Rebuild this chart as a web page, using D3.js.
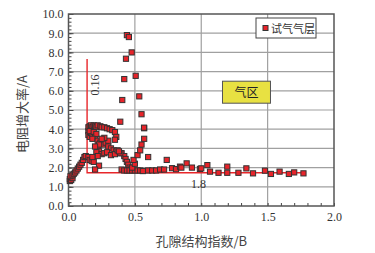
<!DOCTYPE html>
<meta charset="utf-8">
<style>
body { margin: 0; background: #fff; }
.tick text { font-family: "Liberation Serif", serif; font-size: 12px; fill: #333; }
.axis .domain { display: none; }
</style>
<body>
<svg width="375" height="253"></svg>
<script src="https://d3js.org/d3.v7.min.js"></script>
<script>
// points of the gas-test layer
var ptsX = [
  0.01, 0.01, 0.02, 0.02, 0.03, 0.015, 0.03, 0.04, 0.05, 0.06, 0.07, 0.08, 0.09, 0.10, 0.11, 0.12, 0.13, 0.15,
  0.16, 0.175, 0.15, 0.15, 0.16, 0.17, 0.18, 0.19, 0.20, 0.21, 0.22, 0.24, 0.25, 0.27, 0.29, 0.31, 0.33, 0.35,
  0.36, 0.35, 0.15, 0.16, 0.17, 0.18, 0.16, 0.19, 0.20, 0.21, 0.18,
  0.22, 0.24, 0.26, 0.28, 0.30, 0.32, 0.34, 0.36, 0.38, 0.40, 0.42, 0.43, 0.44, 0.45, 0.46, 0.47,
  0.22, 0.23, 0.21, 0.25, 0.27, 0.29, 0.30, 0.27, 0.25, 0.23, 0.20, 0.22, 0.19, 0.23, 0.20, 0.18, 0.32, 0.35,
  0.37, 0.39, 0.38,
  0.40, 0.42, 0.44, 0.46, 0.48, 0.50, 0.52, 0.54, 0.56, 0.60, 0.63, 0.66, 0.69, 0.72,
  0.48, 0.50, 0.49, 0.52, 0.54, 0.55, 0.57, 0.57, 0.60, 0.74,
  0.39, 0.405, 0.42, 0.433, 0.44, 0.455, 0.476, 0.506, 0.533, 0.55, 0.569,
  0.78, 0.81, 0.84, 0.85, 0.89, 0.93, 0.99,
  1.00, 1.046, 1.066, 1.13, 1.196, 1.196, 1.28, 1.34, 1.39, 1.48, 1.525, 1.59, 1.66, 1.70, 1.77
];
var ptsY = [
  1.30, 1.40, 1.35, 1.50, 1.45, 1.55, 1.60, 1.68, 1.75, 1.85, 1.95, 2.05, 2.15, 2.25, 2.40, 2.55, 2.60, 2.55,
  2.40, 2.34, 3.90, 4.10, 4.15, 4.20, 4.10, 4.20, 4.15, 4.10, 4.20, 4.15, 4.10, 4.10, 4.05, 4.00, 3.95, 3.85,
  3.60, 3.45, 3.70, 3.60, 3.80, 3.70, 3.90, 3.85, 3.60, 3.75, 3.50,
  3.40, 3.30, 3.20, 3.30, 3.10, 3.00, 2.90, 2.85, 2.80, 2.75, 2.60, 2.45, 2.30, 2.15, 2.00, 1.90,
  3.00, 2.85, 2.80, 2.70, 2.75, 2.80, 3.40, 3.55, 3.50, 3.20, 3.10, 2.60, 2.30, 2.10, 1.90, 2.55, 2.65, 2.70,
  2.90, 2.75, 2.85,
  1.90, 1.85, 1.85, 1.85, 1.85, 1.85, 1.85, 1.85, 1.82, 1.85, 1.85, 1.85, 1.90, 1.90,
  2.00, 2.20, 2.40, 2.65, 2.90, 3.20, 3.50, 4.05, 2.55, 2.40,
  4.39, 5.52, 6.61, 7.67, 8.90, 8.80, 8.00, 6.78, 5.71, 4.78, 4.08,
  1.97, 1.92, 2.05, 2.00, 2.22, 2.00, 1.93,
  1.96, 2.13, 1.79, 1.73, 2.05, 1.73, 1.73, 1.96, 1.70, 1.84, 1.67, 1.79, 1.67, 1.75, 1.70
];

var xTicks = [0, 0.5, 1.0, 1.5, 2.0];
var yTicks = [0, 1, 2, 3, 4, 5, 6, 7, 8, 9, 10];

// cut-off lines
var cutX = 0.14, cutY = 1.73;
var cutTop = 7.65, cutEnd = 1.78;

var svg = d3.select("svg"),
    margin = {top: 14, right: 41, bottom: 47, left: 68.5},
    width = +svg.attr("width") - margin.left - margin.right,
    height = +svg.attr("height") - margin.top - margin.bottom,
    g = svg.append("g").attr("transform", "translate(" + margin.left + "," + margin.top + ")");

var x = d3.scaleLinear().domain([0, 2]).range([0, width]);
var y = d3.scaleLinear().domain([0, 10]).range([height, 0]);

// grid
g.append("g").selectAll("line")
  .data(yTicks.slice(1, -1))
  .enter().append("line")
    .attr("x1", 0).attr("x2", width)
    .attr("y1", function(d) { return y(d); }).attr("y2", function(d) { return y(d); })
    .attr("stroke", "#a0a0a0").attr("stroke-width", 1.2);
g.append("g").selectAll("line")
  .data(xTicks.slice(1, -1))
  .enter().append("line")
    .attr("y1", 0).attr("y2", height)
    .attr("x1", function(d) { return x(d); }).attr("x2", function(d) { return x(d); })
    .attr("stroke", "#a0a0a0").attr("stroke-width", 1.2);

// minor ticks
g.append("g")
    .attr("class", "axis")
    .call(d3.axisLeft(y).tickValues(d3.range(0, 10.01, 0.2)).tickSize(-3).tickFormat(""))
    .selectAll("line").attr("stroke", "#444");
g.append("g")
    .attr("class", "axis")
    .attr("transform", "translate(0," + height + ")")
    .call(d3.axisBottom(x).tickValues(d3.range(0, 2.001, 0.1)).tickSize(-3).tickFormat(""))
    .selectAll("line").attr("stroke", "#444");

// main axes
g.append("g")
    .attr("class", "axis")
    .call(d3.axisLeft(y).tickValues(yTicks).tickSize(-5).tickPadding(5).tickFormat(d3.format(".1f")))
    .selectAll("line").attr("stroke", "#444");
g.append("g")
    .attr("class", "axis")
    .attr("transform", "translate(0," + height + ")")
    .call(d3.axisBottom(x).tickValues(xTicks).tickSize(0).tickPadding(6).tickFormat(d3.format(".1f")));

// frame
g.append("rect")
    .attr("width", width).attr("height", height)
    .attr("fill", "none").attr("stroke", "#555").attr("stroke-width", 1.5);

// red cut-off lines
g.append("path")
    .attr("d", "M" + x(cutX) + "," + y(cutTop) + "V" + y(cutY) + "H" + x(cutEnd))
    .attr("fill", "none").attr("stroke", "#e8262a").attr("stroke-width", 1.4);

g.append("text")
    .attr("transform", "translate(" + (x(cutX) + 12) + "," + y(6.3) + ") rotate(-90)")
    .attr("text-anchor", "middle")
    .attr("font-family", "Liberation Serif, serif").attr("font-size", 12).attr("fill", "#333")
    .text("0.16");
g.append("text")
    .attr("x", x(0.98)).attr("y", y(0.95))
    .attr("text-anchor", "middle")
    .attr("font-family", "Liberation Serif, serif").attr("font-size", 12).attr("fill", "#333")
    .text("1.8");

// points
var pts = ptsX.map(function(d, i) { return [d, ptsY[i]]; });
g.append("g").selectAll("rect")
  .data(pts)
  .enter().append("rect")
    .attr("x", function(d) { return x(d[0]) - 2.6; })
    .attr("y", function(d) { return y(d[1]) - 2.6; })
    .attr("width", 5.2).attr("height", 5.2)
    .attr("fill", "#e8242a").attr("stroke", "#333").attr("stroke-width", 1);

// gas zone box
var zone = g.append("g").attr("transform", "translate(" + x(1.16) + "," + y(6.5) + ")");
zone.append("rect")
    .attr("width", 48).attr("height", 22)
    .attr("fill", "#e8e142").attr("stroke", "#555").attr("stroke-width", 1);
zone.append("text")
    .attr("x", 24).attr("y", 15.5).attr("text-anchor", "middle")
    .attr("font-family", "Noto Sans CJK SC").attr("font-size", 12).attr("fill", "#222")
    .text("气区");

// legend
var legend = g.append("g").attr("transform", "translate(" + (width - 78) + ",4)");
legend.append("rect")
    .attr("width", 60).attr("height", 20)
    .attr("fill", "#fff").attr("stroke", "#444").attr("stroke-width", 1);
legend.append("rect")
    .attr("x", 7).attr("y", 7.5).attr("width", 5).attr("height", 5)
    .attr("fill", "#e8242a").attr("stroke", "#333").attr("stroke-width", 1);
legend.append("text")
    .attr("x", 15).attr("y", 14.5)
    .attr("font-family", "Noto Sans CJK SC").attr("font-size", 11).attr("fill", "#333")
    .text("试气气层");

// axis titles
svg.append("text")
    .attr("transform", "translate(27,114) rotate(-90)")
    .attr("text-anchor", "middle")
    .attr("font-family", "Noto Sans CJK SC").attr("font-size", 13).attr("fill", "#444")
    .text("电阻增大率/A");
svg.append("text")
    .attr("x", margin.left + width / 2).attr("y", 246)
    .attr("text-anchor", "middle")
    .attr("font-family", "Noto Sans CJK SC").attr("font-size", 13).attr("fill", "#444")
    .text("孔隙结构指数/B");
</script>
